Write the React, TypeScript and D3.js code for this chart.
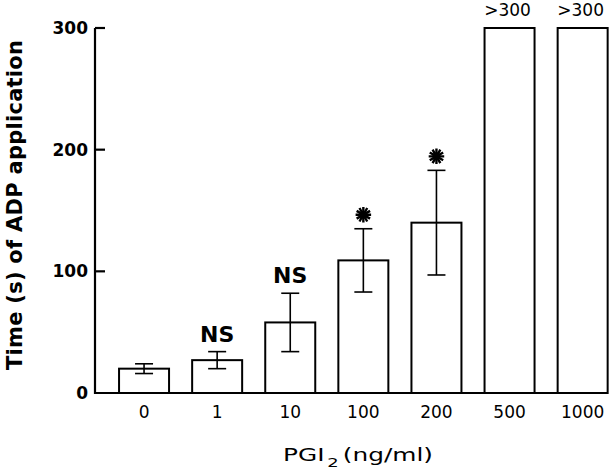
import React from 'react';
import * as d3 from 'd3';

const categories = ['0', '1', '10', '100', '200', '500', '1000'];
const means = [20, 27, 58, 109, 140, 300, 300];
const errors = [4, 7, 24, 26, 43, 0, 0];
const marks = ['', 'NS', 'NS', '*', '*', '>300', '>300'];
const yTicks = [0, 100, 200, 300];

const W = 610;
const H = 475;
const font = '"DejaVu Sans", sans-serif';

const App = () => {
  const x = d3.scaleBand()
    .domain(categories)
    .range([107.5, 619.2])
    .paddingInner(0.316)
    .paddingOuter(0.158);

  const y = d3.scaleLinear()
    .domain([0, 300])
    .range([393, 28]);

  const axisX = 95;
  const axisEnd = 606;
  const star = d3.symbol(d3.symbolAsterisk, 170)();

  return (
    <svg width={W} height={H} style={{ position: 'absolute', left: 0, top: 0, background: '#fff' }}>
      {/* bars */}
      {categories.map((c, i) => (
        <rect key={c} x={x(c)} y={y(means[i])} width={x.bandwidth()} height={y(0) - y(means[i])}
          fill="#fff" stroke="#000" strokeWidth={2} />
      ))}

      {/* error bars */}
      {categories.map((c, i) => {
        if (!errors[i]) return null;
        const cx = x(c) + x.bandwidth() / 2;
        const top = y(means[i] + errors[i]);
        const bot = y(means[i] - errors[i]);
        return (
          <g key={c} stroke="#000" strokeWidth={1.6}>
            <line x1={cx} x2={cx} y1={top} y2={bot} />
            <line x1={cx - 9} x2={cx + 9} y1={top} y2={top} />
            <line x1={cx - 9} x2={cx + 9} y1={bot} y2={bot} />
          </g>
        );
      })}

      {/* annotations */}
      {categories.map((c, i) => {
        const cx = x(c) + x.bandwidth() / 2;
        const m = marks[i];
        if (!m) return null;
        if (m === 'NS') {
          return (
            <text key={c} x={cx} y={y(means[i] + errors[i]) - 10} textAnchor="middle"
              fontFamily={font} fontWeight="bold" fontSize={22}>NS</text>
          );
        }
        if (m === '*') {
          const cy = y(means[i] + errors[i]) - 14;
          return (
            <g key={c} transform={`translate(${cx},${cy})`}>
              <circle r={4} fill="#000" />
              <path d={star} fill="none" stroke="#000" strokeWidth={2.4} />
              <path d={star} fill="none" stroke="#000" strokeWidth={2.4} transform="rotate(30)" />
            </g>
          );
        }
        return (
          <text key={c} x={cx - 2} y={y(means[i]) - 12} textAnchor="middle"
            fontFamily={font} fontSize={17}>{m}</text>
        );
      })}

      {/* axes */}
      <line x1={axisX} x2={axisX} y1={y(300)} y2={y(0) + 1} stroke="#000" strokeWidth={2.2} />
      <line x1={axisX - 1} x2={axisEnd} y1={y(0)} y2={y(0)} stroke="#000" strokeWidth={2.2} />
      {yTicks.map(t => (
        <g key={t}>
          {t > 0 && <line x1={axisX} x2={axisX + 10} y1={y(t)} y2={y(t)} stroke="#000" strokeWidth={2.2} />}
          <text x={88} y={y(t)} dy="0.36em" textAnchor="end" fontFamily={font} fontWeight="bold" fontSize={17}>{t}</text>
        </g>
      ))}
      {categories.map(c => (
        <text key={c} x={x(c) + x.bandwidth() / 2} y={412} dy="0.36em" textAnchor="middle"
          fontFamily={font} fontSize={17}>{c}</text>
      ))}

      {/* titles */}
      <text transform="translate(22,205) rotate(-90)" textAnchor="middle" fontFamily={font}
        fontWeight="bold" fontSize={21} textLength={330} lengthAdjust="spacing">Time (s) of ADP application</text>
      <text x={283} y={461} fontFamily={font} fontSize={18} textLength={150} lengthAdjust="spacingAndGlyphs">
        PGI<tspan fontSize={13} dy={6} dx={2}>2</tspan><tspan dy={-6} dx={3}>(ng/ml)</tspan>
      </text>
    </svg>
  );
};

export default App;
